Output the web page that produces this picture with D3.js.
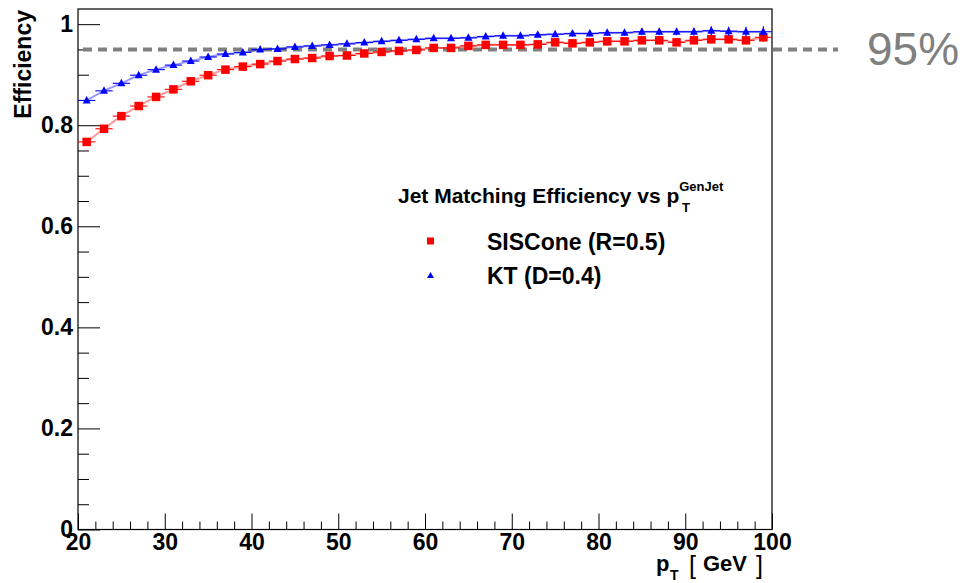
<!DOCTYPE html>
<html>
<head>
<meta charset="utf-8">
<script src="https://cdn.jsdelivr.net/npm/d3@7"></script>
<style>
  html, body { margin: 0; padding: 0; background: #fff; }
  svg { display: block; }
  text { font-family: "Liberation Sans", Arial, Helvetica, sans-serif; }
</style>
</head>
<body>
<svg id="chart" width="963" height="583"></svg>
<script>
// ---- data ----
const ptBins = [21,23,25,27,29,31,33,35,37,39,41,43,45,47,49,51,53,55,57,59,
                61,63,65,67,69,71,73,75,77,79,81,83,85,87,89,91,93,95,97,99];
const sisConeEff = [0.767,0.793,0.818,0.838,0.856,0.871,0.887,0.899,0.910,0.916,
                    0.921,0.927,0.931,0.933,0.937,0.938,0.942,0.945,0.947,0.949,
                    0.953,0.953,0.957,0.959,0.959,0.959,0.960,0.964,0.962,0.964,
                    0.966,0.966,0.968,0.968,0.964,0.968,0.970,0.970,0.968,0.974];
const sisConeErr = [0.003,0.003,0.003,0.003,0.003,0.003,0.003,0.003,0.003,0.003,
                    0.003,0.003,0.003,0.003,0.003,0.004,0.004,0.004,0.004,0.004,
                    0.004,0.004,0.005,0.005,0.005,0.005,0.005,0.006,0.006,0.006,
                    0.006,0.006,0.007,0.007,0.007,0.007,0.008,0.008,0.008,0.009];
const ktEff = [0.849,0.868,0.883,0.899,0.910,0.919,0.927,0.935,0.941,0.944,
               0.950,0.951,0.955,0.957,0.959,0.961,0.9635,0.966,0.968,0.970,
               0.972,0.972,0.973,0.9755,0.977,0.977,0.979,0.980,0.9815,0.9815,
               0.983,0.983,0.985,0.985,0.985,0.985,0.987,0.986,0.985,0.985];
const ktErr = [0.003,0.003,0.003,0.003,0.003,0.003,0.003,0.003,0.003,0.003,
               0.003,0.003,0.003,0.003,0.003,0.003,0.003,0.004,0.004,0.004,
               0.004,0.004,0.004,0.005,0.005,0.005,0.005,0.005,0.006,0.006,
               0.006,0.006,0.007,0.007,0.007,0.008,0.009,0.009,0.010,0.011];
const binHalfWidth = 1;
const xTicksMajor = [20,30,40,50,60,70,80,90,100];
const xTicksMinor = [22,24,26,28,32,34,36,38,42,44,46,48,52,54,56,58,62,64,66,68,
                     72,74,76,78,82,84,86,88,92,94,96,98];
const yTicksMajor = [0,0.2,0.4,0.6,0.8,1];
const yTickLabels = ["0","0.2","0.4","0.6","0.8","1"];
const yTicksMinor = [0.05,0.1,0.15,0.25,0.3,0.35,0.45,0.5,0.55,0.65,0.7,0.75,0.85,0.9,0.95];
const refLevel = 0.95;
const refLabel = "95%";
const seriesNames = ["SISCone (R=0.5)", "KT (D=0.4)"];

// ---- layout ----
const svg = d3.select("#chart");
const pLeft = 78, pRight = 772, pTop = 9, pBottom = 529.5;
const x = d3.scaleLinear().domain([20, 100]).range([pLeft, pRight]);
const y = d3.scaleLinear().domain([0, 1.03]).range([pBottom, pTop]);

// minor ticks
svg.append("g").attr("transform", `translate(0,${pBottom})`)
  .call(d3.axisBottom(x).tickValues(xTicksMinor).tickSize(-8).tickFormat(""))
  .call(g => g.select(".domain").remove())
  .selectAll("line").attr("stroke", "#000");
svg.append("g").attr("transform", `translate(${pLeft},0)`)
  .call(d3.axisLeft(y).tickValues(yTicksMinor).tickSize(-11).tickFormat(""))
  .call(g => g.select(".domain").remove())
  .selectAll("line").attr("stroke", "#000");

// major ticks + labels
const xAx = svg.append("g").attr("transform", `translate(0,${pBottom})`)
  .call(d3.axisBottom(x).tickValues(xTicksMajor).tickSize(-16).tickPadding(4).tickFormat(d3.format("d")));
xAx.select(".domain").remove();
xAx.selectAll("line").attr("stroke", "#000");
xAx.selectAll("text").attr("font-size", 23).attr("font-weight", "bold").attr("fill", "#000")
  .attr("font-family", "'Liberation Sans', Arial, sans-serif");

const yAx = svg.append("g").attr("transform", `translate(${pLeft},0)`)
  .call(d3.axisLeft(y).tickValues(yTicksMajor).tickSize(-22).tickPadding(5)
        .tickFormat((d, i) => yTickLabels[i]));
yAx.select(".domain").remove();
yAx.selectAll("line").attr("stroke", "#000");
yAx.selectAll("text").attr("font-size", 23).attr("font-weight", "bold").attr("fill", "#000")
  .attr("font-family", "'Liberation Sans', Arial, sans-serif");

// frame
svg.append("rect").attr("x", pLeft).attr("y", pTop).attr("width", pRight - pLeft).attr("height", pBottom - pTop)
  .attr("fill", "none").attr("stroke", "#000").attr("stroke-width", 1.2);

// reference dashed line
svg.append("line")
  .attr("x1", pLeft + 5).attr("x2", 838)
  .attr("y1", y(refLevel)).attr("y2", y(refLevel))
  .attr("stroke", "#808080").attr("stroke-width", 4).attr("stroke-dasharray", "9,6");
svg.append("text").attr("x", 867).attr("y", 65).attr("font-size", 46)
  .attr("fill", "#808080").text(refLabel);

// series
function drawSeries(vals, errs, color, marker) {
  const data = ptBins.map((p, i) => ({ p, v: vals[i], e: errs[i] }));
  const g = svg.append("g");
  g.append("path").datum(data)
    .attr("d", d3.line().x(d => x(d.p)).y(d => y(d.v)).curve(d3.curveCatmullRom))
    .attr("fill", "none").attr("stroke", color).attr("stroke-opacity", 0.4).attr("stroke-width", 2);
  g.selectAll(".hbar").data(data).join("line")
    .attr("x1", d => x(d.p - binHalfWidth)).attr("x2", d => x(d.p + binHalfWidth))
    .attr("y1", d => y(d.v)).attr("y2", d => y(d.v))
    .attr("stroke", color).attr("stroke-width", 1.1);
  g.selectAll(".vbar").data(data).join("line")
    .attr("x1", d => x(d.p)).attr("x2", d => x(d.p))
    .attr("y1", d => y(d.v - d.e)).attr("y2", d => y(d.v + d.e))
    .attr("stroke", color).attr("stroke-width", 1.1);
  if (marker === "square") {
    g.selectAll(".mk").data(data).join("rect")
      .attr("x", d => x(d.p) - 4.25).attr("y", d => y(d.v) - 4.25)
      .attr("width", 8.5).attr("height", 8.5).attr("fill", color);
  } else {
    g.selectAll(".mk").data(data).join("path")
      .attr("d", d => {
        const cx = x(d.p), cy = y(d.v);
        return `M${cx},${cy - 4.5}L${cx + 4},${cy + 3}L${cx - 4},${cy + 3}Z`;
      })
      .attr("fill", color);
  }
}
drawSeries(sisConeEff, sisConeErr, "#ff0000", "square");
drawSeries(ktEff, ktErr, "#0000ff", "triangle");

// axis titles
svg.append("text")
  .attr("transform", "translate(31,10) rotate(-90)")
  .attr("text-anchor", "end").attr("font-size", 23).attr("font-weight", "bold")
  .text("Efficiency");

const xTitle = svg.append("g").attr("font-weight", "bold");
xTitle.append("text").attr("x", 656).attr("y", 571).attr("font-size", 22).text("p");
xTitle.append("text").attr("x", 670).attr("y", 580).attr("font-size", 14).text("T");
xTitle.append("text").attr("x", 689).attr("y", 574).attr("font-size", 25).attr("font-weight", "normal").text("[");
xTitle.append("text").attr("x", 703).attr("y", 571).attr("font-size", 22).text("GeV");
xTitle.append("text").attr("x", 756).attr("y", 574).attr("font-size", 25).attr("font-weight", "normal").text("]");

// legend
const lt = svg.append("text").attr("x", 398).attr("y", 203).attr("font-size", 21).attr("font-weight", "bold");
lt.append("tspan").text("Jet Matching Efficiency vs p");
lt.append("tspan").attr("font-size", 13).attr("dy", -12).text("GenJet");
svg.append("text").attr("x", 682).attr("y", 212).attr("font-size", 13).attr("font-weight", "bold").text("T");

svg.append("rect").attr("x", 427).attr("y", 237.5).attr("width", 7).attr("height", 7).attr("fill", "#ff0000");
svg.append("path").attr("d", "M430.5,272L434,278L427,278Z").attr("fill", "#0000ff");
svg.append("text").attr("x", 487).attr("y", 250).attr("font-size", 23).attr("font-weight", "bold").text(seriesNames[0]);
svg.append("text").attr("x", 487).attr("y", 284).attr("font-size", 23).attr("font-weight", "bold").text(seriesNames[1]);
</script>
</body>
</html>
